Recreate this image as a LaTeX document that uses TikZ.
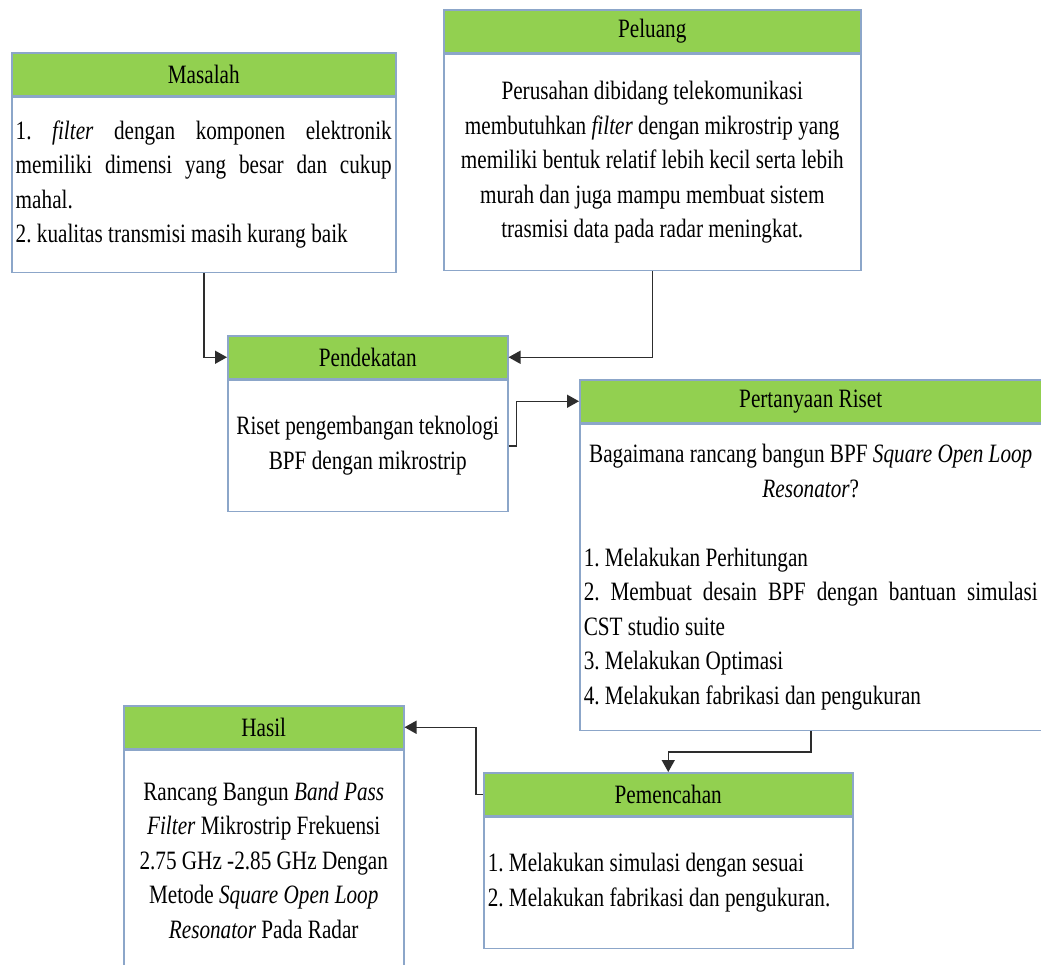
\documentclass[tikz,border=0pt]{standalone}
\usepackage{fontspec}
\setmainfont{Liberation Serif}[FakeStretch=0.8]
\usetikzlibrary{arrows.meta}
\definecolor{hdrgreen}{RGB}{146,208,80}
\definecolor{boxline}{RGB}{140,166,201}
\definecolor{wire}{RGB}{45,45,45}
\frenchspacing
\hyphenpenalty=10000
\exhyphenpenalty=10000
% a line spread out to the full given width
\newcommand{\spreadline}[2]{\makebox[#1][s]{\spaceskip=0pt\xspaceskip=0pt\relax #2}}

\begin{document}
\begin{tikzpicture}[x=1pt,y=-1pt,
  every node/.style={font=\fontsize{26.5}{34.5}\selectfont},
  hdr/.style={draw=boxline, fill=hdrgreen, line width=1.5pt, minimum height=43pt,
    inner sep=0pt, anchor=north west},
  body/.style={draw=boxline, fill=white, line width=1.5pt, inner xsep=4pt,
    inner ysep=0pt, anchor=north},
  arr/.style={draw=wire, line width=1.5pt, -{Triangle[length=12pt,width=13pt]}}
]
\useasboundingbox (0,0) rectangle (1041,964);
\clip (0,0) rectangle (1041,964);
\fill[white] (0,0) rectangle (1041,964);

% Masalah
\node[hdr, minimum width=384pt] (masalahH) at (11,52) {Masalah};
\node[body, minimum width=384pt, minimum height=175pt, text width=376pt, align=flush left]
  (masalah) at (masalahH.south) {%
  \spreadline{376pt}{1. \textit{filter} dengan komponen elektronik}\\
  \spreadline{376pt}{memiliki dimensi yang besar dan cukup}\\
  mahal.\\
  2. kualitas transmisi masih kurang baik};

% Peluang
\node[hdr, minimum width=417pt] (peluangH) at (443,9) {Peluang};
\node[body, minimum width=417pt, minimum height=216pt, text width=409pt, align=flush center]
  (peluang) at (peluangH.south) {%
  Perusahan dibidang telekomunikasi\\
  membutuhkan \textit{filter} dengan mikrostrip yang\\
  memiliki bentuk relatif lebih kecil serta lebih\\
  murah dan juga mampu membuat sistem\\
  trasmisi data pada radar meningkat.};

% Pendekatan
\node[hdr, minimum width=280pt] (pendH) at (227,335) {Pendekatan};
\node[body, minimum width=280pt, minimum height=131pt, text width=272pt, align=flush center]
  (pend) at (pendH.south) {%
  Riset pengembangan teknologi\\
  BPF dengan mikrostrip};

% Pertanyaan Riset
\node[hdr, minimum width=462pt] (pertH) at (579,379) {Pertanyaan Riset};
\node[body, minimum width=462pt, minimum height=306pt, text width=454pt, align=flush left]
  (pert) at (pertH.south) {%
  \makebox[454pt][c]{Bagaimana rancang bangun BPF \textit{Square Open Loop}}\\
  \makebox[454pt][c]{\textit{Resonator}?}\\[34.5pt]
  1. Melakukan Perhitungan\\
  \spreadline{454pt}{2. Membuat desain BPF dengan bantuan simulasi}\\
  CST studio suite\\
  3. Melakukan Optimasi\\
  4. Melakukan fabrikasi dan pengukuran};

% Pemencahan
\node[hdr, minimum width=369pt] (pemH) at (483,772) {Pemencahan};
\node[body, minimum width=369pt, minimum height=131pt, text width=361pt, align=flush left]
  (pem) at (pemH.south) {%
  1. Melakukan simulasi dengan sesuai\\
  2. Melakukan fabrikasi dan pengukuran.};

% Hasil
\node[hdr, minimum width=280pt] (hasilH) at (123,705) {Hasil};
\node[body, minimum width=280pt, minimum height=220pt, text width=272pt, align=flush center]
  (hasil) at (hasilH.south) {%
  Rancang Bangun \textit{Band Pass}\\
  \textit{Filter} Mikrostrip Frekuensi\\
  2.75 GHz -2.85 GHz Dengan\\
  Metode \textit{Square Open Loop}\\
  \textit{Resonator} Pada Radar};

% Connectors
\draw[arr] (masalah.south) |- (pendH.west);
\draw[arr] (peluang.south) |- (pendH.east);
\draw[arr] (pend.east) -- ++(8,0) |- (pertH.west);
\draw[arr] (pert.south) -- ++(0,21) -| (pemH.north);
\draw[arr] (pemH.west) -- ++(-7,0) |- (hasilH.east);
\end{tikzpicture}
\end{document}
